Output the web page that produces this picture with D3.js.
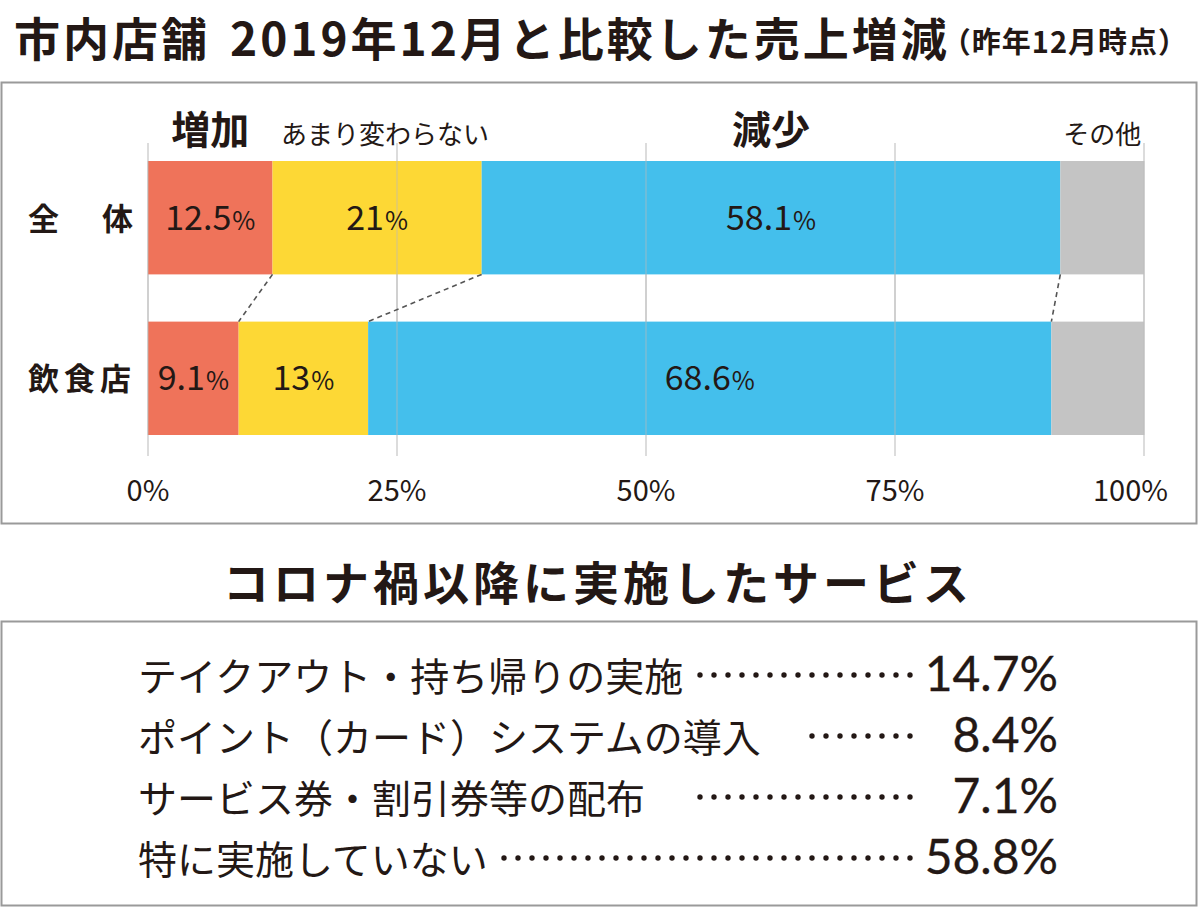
<!DOCTYPE html>
<html><head><meta charset="utf-8">
<script src="https://cdn.jsdelivr.net/npm/d3@7"></script>
<style>
html,body{margin:0;padding:0;background:#fff;}
svg{display:block;}
text{font-family:"Noto Sans CJK JP","Noto Sans",sans-serif;fill:#231815;}
.num{font-family:"Noto Sans CJK JP","Noto Sans",sans-serif;}
.big{font-family:Lato,"Noto Sans",sans-serif;}
</style></head>
<body><svg id="c" width="1200" height="908"></svg>
<script>
// ---- data ----
const titleMain = "市内店舗";
const titleRest = "2019年12月と比較した売上増減";
const titleNote = "（昨年12月時点）";
const groups = ["全　体", "飲食店"];
const segments = ["増加", "あまり変わらない", "減少", "その他"];
const increase = [12.5, 9.1];
const unchanged = [21, 13];
const decrease = [58.1, 68.6];
const other = [8.4, 9.3];
const xTicks = [0, 25, 50, 75, 100];
const sectionTitle = "コロナ禍以降に実施したサービス";
const services = ["テイクアウト・持ち帰りの実施", "ポイント（カード）システムの導入　", "サービス券・割引券等の配布　", "特に実施していない"];
const serviceValues = [14.7, 8.4, 7.1, 58.8];

const colors = ["#EF735A", "#FDD835", "#44BFEC", "#C4C4C4"];
const svg = d3.select("#c");

// boxes
svg.append("rect").attr("x",1.5).attr("y",82.5).attr("width",1195).attr("height",441)
  .attr("fill","none").attr("stroke","#9a9a9a").attr("stroke-width",2);
svg.append("rect").attr("x",1.5).attr("y",621.5).attr("width",1195).attr("height",284)
  .attr("fill","none").attr("stroke","#9a9a9a").attr("stroke-width",2);

// title
const t = svg.append("text").attr("x",14).attr("y",56).attr("font-size",46).attr("font-weight","bold").attr("letter-spacing",3);
t.append("tspan").text(titleMain);
t.append("tspan").attr("dx",20).text(titleRest);
t.append("tspan").attr("font-size",29).attr("letter-spacing",1).attr("dx",-8).attr("dy",-3).text(titleNote);

// scales
const x = d3.scaleLinear().domain([0,100]).range([148,1144]);
const y = d3.scaleBand().domain(groups).range([161,435]).paddingInner(0.294).paddingOuter(0);

const rows = groups.map((g,i)=>{
  const vals = [increase[i], unchanged[i], decrease[i], other[i]];
  let acc = 0;
  return vals.map((v,k)=>{ const s = {g, k, v, x0:acc, x1:acc+v}; acc += v; return s; });
});

// gridlines (under)
svg.append("g").selectAll("line").data(xTicks).join("line")
  .attr("x1",d=>x(d)).attr("x2",d=>x(d)).attr("y1",143).attr("y2",456)
  .attr("stroke","#dcdcdc").attr("stroke-width",2);

// bars
svg.append("g").selectAll("g").data(rows).join("g")
  .selectAll("rect").data(d=>d).join("rect")
  .attr("x",d=>x(d.x0)).attr("width",d=>x(d.x1)-x(d.x0))
  .attr("y",d=>y(d.g)).attr("height",y.bandwidth())
  .attr("fill",d=>colors[d.k]);

// gridlines over bars (faint)
svg.append("g").selectAll("line").data(xTicks).join("line")
  .attr("x1",d=>x(d)).attr("x2",d=>x(d)).attr("y1",161).attr("y2",435)
  .attr("stroke","#bbbbbb").attr("stroke-opacity",0.35).attr("stroke-width",2);

// connectors
const r0 = rows[0], r1 = rows[1];
svg.append("g").selectAll("line").data([0,1,2]).join("line")
  .attr("x1",k=>x(r0[k].x1)).attr("y1",y(groups[0])+y.bandwidth())
  .attr("x2",k=>x(r1[k].x1)).attr("y2",y(groups[1]))
  .attr("stroke","#555").attr("stroke-width",1.6).attr("stroke-dasharray","5 4");

// segment headers
svg.append("g").selectAll("text").data(r0).join("text")
  .attr("x",d=>x((d.x0+d.x1)/2)+(d.k===1?8:0)).attr("y",144).attr("text-anchor","middle")
  .attr("font-size",d=>(d.k===0||d.k===2)?39:26)
  .attr("font-weight",d=>(d.k===0||d.k===2)?"bold":"normal")
  .text(d=>segments[d.k]);

// value labels
const lab = svg.append("g").selectAll("text").data(rows.flat().filter(d=>d.k<3)).join("text")
  .attr("class","num")
  .attr("x",d=>x((d.x0+d.x1)/2)).attr("y",d=>y(d.g)+y.bandwidth()/2+12)
  .attr("text-anchor","middle").attr("font-size",34);
lab.append("tspan").text(d=>d.v);
lab.append("tspan").attr("font-size",25).attr("dx",1).text("%");

// row labels
svg.append("g").selectAll("text").data(groups).join("text")
  .attr("x",28).attr("y",d=>y(d)+y.bandwidth()/2+12)
  .attr("font-size",31).attr("font-weight","bold")
  .attr("letter-spacing",d=>d==="飲食店"?5:6)
  .text(d=>d);

// x axis tick labels
svg.append("g").selectAll("text").data(xTicks).join("text")
  .attr("class","num")
  .attr("x",(d,i)=>i===xTicks.length-1 ? x(d)+24 : x(d)).attr("y",501)
  .attr("text-anchor",(d,i)=>i===xTicks.length-1 ? "end" : "middle")
  .attr("font-size",29).text(d=>d+"%");

// section title
svg.append("text").attr("x",598).attr("y",600).attr("text-anchor","middle")
  .attr("font-size",46).attr("font-weight","bold").attr("letter-spacing",4)
  .text(sectionTitle);

// service list
const ly = d3.scalePoint().domain(d3.range(services.length)).range([674,857]);
const valRight = 1058, dotEnd = 910, dotStep = 14;
services.forEach((s,i)=>{
  const tx = svg.append("text").attr("x",138).attr("y",ly(i)).attr("dominant-baseline","central")
    .attr("font-size",39).text(s);
  const end = 138 + tx.node().getComputedTextLength();
  const n = Math.floor((dotEnd - (end+10))/dotStep);
  svg.append("g").selectAll("circle").data(d3.range(n+1)).join("circle")
    .attr("cx",j=>dotEnd - j*dotStep).attr("cy",ly(i)+1).attr("r",2.7).attr("fill","#231815");
  svg.append("text").attr("class","big").attr("x",valRight).attr("y",ly(i)+17)
    .attr("text-anchor","end").attr("font-size",48).attr("font-weight","normal")
    .attr("stroke","#231815").attr("stroke-width",0.3)
    .text(serviceValues[i].toFixed(1)+"%");
});
</script></body></html>
